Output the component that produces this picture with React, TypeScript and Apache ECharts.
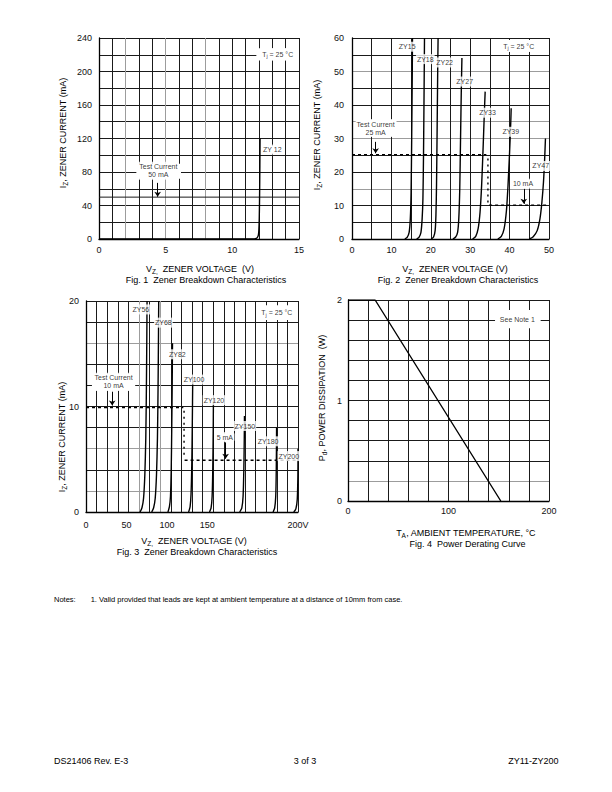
import React, { useEffect, useRef } from "react";
import * as echarts from "echarts";

const FONT = "'Liberation Sans', Arial, Helvetica, sans-serif";
const GRAY = "#9c9c9c";
const BLK = "#1a1a1a";

// ---------- Fig. 1 ----------
const fig1XLabels = [0, 5, 10, 15];
const fig1YLabels = [0, 40, 80, 120, 160, 200, 240];
const fig1ZY12 = [[0, 0], [11.5, 0], [11.8, 0.8], [11.92, 3], [11.98, 8], [12.02, 25], [12.05, 60], [12.08, 120]];
const fig1Extra50 = [[0, 50], [15, 50]];
const fig1Labels = [{ name: "ZY 12", value: [13.0, 106.7] }];
const fig1TestCurrent = { text: "Test Current\n50 mA", value: [4.45, 81.6] };
const fig1Arrow = [[4.4, 67], [4.4, 50.5]];
const fig1Tj = [13.4, 220.5];
const fig1Boxes = [[[11.8, 213], [15, 227.7]], [[2.8, 72], [6.15, 90]], [[12.2, 102.3], [13.8, 111]]];

// ---------- Fig. 2 ----------
const fig2XLabels = [0, 10, 20, 30, 40, 50];
const fig2YLabels = [0, 10, 20, 30, 40, 50, 60];
const fig2ZY15 = [[13.4, 0], [14.0, 0.5], [14.5, 2], [14.8, 6], [15.0, 14], [15.15, 30], [15.3, 50], [15.35, 60]];
const fig2ZY18 = [[16.4, 0], [17.0, 0.5], [17.5, 2], [17.8, 6], [18.0, 12], [18.15, 25], [18.3, 45], [18.4, 60]];
const fig2ZY22 = [[20.1, 0], [20.7, 0.6], [21.1, 2.5], [21.3, 7], [21.45, 16], [21.6, 32], [21.75, 50], [21.85, 60]];
const fig2ZY27 = [[25.6, 0], [26.3, 0.6], [26.8, 2], [27.1, 6], [27.35, 15], [27.55, 30], [27.75, 45], [27.9, 54]];
const fig2ZY33 = [[30.6, 0], [31.4, 0.8], [32.0, 3], [32.5, 8], [32.9, 16], [33.3, 28], [33.6, 38], [33.8, 44]];
const fig2ZY39 = [[37.0, 0], [37.9, 0.8], [38.6, 3], [39.2, 8.5], [39.6, 16], [40.0, 26], [40.3, 35], [40.4, 39]];
const fig2ZY47 = [[45.0, 0], [46.0, 0.7], [47.0, 2.5], [47.7, 6], [48.2, 11], [48.6, 17], [48.9, 24], [49.1, 30]];
const fig2Dash25 = [[0, 25.2], [34.1, 25.2]];
const fig2Dot = [[34.5, 24], [34.5, 10.6]];
const fig2Dash10 = [[34.8, 10.1], [50, 10.1]];
const fig2Labels = [
  { name: "ZY15", value: [14.0, 57.4] },
  { name: "ZY18", value: [18.6, 53.7] },
  { name: "ZY22", value: [23.5, 52.7] },
  { name: "ZY27", value: [28.6, 47.0] },
  { name: "ZY33", value: [34.4, 37.7] },
  { name: "ZY39", value: [40.3, 32.0] },
  { name: "ZY47", value: [47.9, 21.8] },
];
const fig2TestCurrent = { text: "Test Current\n25 mA", value: [6.0, 33.1] };
const fig2Arrow1 = [[6.0, 29], [6.0, 25.6]];
const fig2TenMA = { text: "10 mA", value: [43.4, 16.5] };
const fig2Arrow2 = [[43.6, 15.0], [43.6, 10.5]];
const fig2Tj = [42.3, 57.6];
const fig2Boxes = [[[36.2, 55.9], [48.5, 59.4]], [[1.1, 30.7], [11.3, 35.5]], [[41.7, 15.4], [46.4, 17.6]]];

// ---------- Fig. 3 ----------
const fig3XLabels = [0, 50, 100, 150];
const fig3XLabelMax = 262;
const fig3XLast = "200V";
const fig3YLabels = [0, 10, 20];
const fig3ZY56 = [[51, 0], [52.8, 0.4], [54.3, 1.3], [55.5, 3.5], [56.4, 7], [57.0, 12], [57.4, 17], [57.6, 20]];
const fig3ZY68 = [[62, 0], [63.8, 0.4], [65.3, 1.3], [66.5, 3.5], [67.4, 7], [68.0, 12], [68.4, 17], [68.6, 20]];
const fig3ZY82 = [[77.3, 0], [78.7, 0.5], [79.7, 1.5], [80.4, 4], [80.9, 8], [81.3, 12], [81.6, 16]];
const fig3ZY100 = [[96.8, 0], [98.2, 0.5], [99.1, 1.7], [99.8, 4.5], [100.3, 8.5], [100.7, 12.7]];
const fig3ZY120 = [[116.5, 0], [118, 0.4], [119, 1.5], [119.6, 4], [120, 7.5], [120.2, 10.5]];
const fig3ZY150 = [[145, 0], [147, 0.4], [148.2, 1.5], [148.9, 4], [149.3, 6.8], [149.5, 9.1]];
const fig3ZY180 = [[176.5, 0], [178, 0.4], [179, 1.5], [179.5, 4], [179.8, 8]];
const fig3ZY200 = [[196, 0], [198, 0.3], [199.3, 1.2], [199.9, 3.5], [200, 6]];
const fig3Dash10 = [[0, 9.9], [91.8, 9.9]];
const fig3Dot = [[92.5, 9.6], [92.5, 5.2]];
const fig3Dash5 = [[93, 4.9], [200, 4.9]];
const fig3Labels = [
  { name: "ZY56", value: [51.7, 19.2] },
  { name: "ZY68", value: [73.0, 17.95] },
  { name: "ZY82", value: [86.2, 14.95] },
  { name: "ZY100", value: [101.9, 12.55] },
  { name: "ZY120", value: [120.7, 10.6] },
  { name: "ZY150", value: [149.9, 8.15] },
  { name: "ZY180", value: [171.8, 6.7] },
  { name: "ZY200", value: [191.3, 5.3] },
];
const fig3TestCurrent = { text: "Test Current\n10 mA", value: [26, 12.35] };
const fig3Arrow1 = [[24.7, 11.4], [24.7, 10.1]];
const fig3FiveMA = { text: "5 mA", value: [131, 7.1] };
const fig3Arrow2 = [[131.7, 6.6], [131.7, 5.05]];
const fig3Tj = [180, 18.9];
const fig3Boxes = [[[160.8, 18.2], [200, 19.6]], [[5.6, 11.5], [46.4, 13.1]], [[123, 6.75], [140, 7.45]]];

// ---------- Fig. 4 ----------
const fig4XLabels = [0, 100, 200];
const fig4YLabels = [0, 1, 2];
const fig4Pd = [[0, 2], [27, 2], [152, 0]];
const fig4Note = { text: "See Note 1", value: [168.5, 1.81] };
const fig4Boxes = [[[146.3, 1.72], [191.7, 1.9]]];

function colors(n: number, gray: number[]) {
  return Array.from({ length: n }, (_, i) => (gray.includes(i) ? GRAY : BLK));
}

const near = (arr: number[], v: number) => arr.some((a) => Math.abs(a - v) < 1e-6);

function xAx(g: number, min: number, max: number, interval: number, labels: number[], cols: string[], margin: number) {
  return {
    type: "value", gridIndex: g, min, max, interval, position: "bottom",
    axisLine: { show: true, onZero: false, lineStyle: { color: "#000", width: 1.3 } },
    axisTick: { show: false },
    axisLabel: {
      show: true, margin, fontSize: 9, fontFamily: FONT, color: "#111",
      showMinLabel: true, showMaxLabel: true,
      formatter: (v: number) => (near(labels, v) ? String(Math.round(v)) : ""),
    },
    splitLine: { show: true, lineStyle: { color: cols, width: 1 } },
  };
}
function yAx(g: number, min: number, max: number, interval: number, labels: number[], cols: string[], margin: number) {
  return {
    type: "value", gridIndex: g, min, max, interval,
    axisLine: { show: true, onZero: false, lineStyle: { color: "#000", width: 1.3 } },
    axisTick: { show: false },
    axisLabel: {
      show: true, margin, fontSize: 9, fontFamily: FONT, color: "#111",
      showMinLabel: true, showMaxLabel: true,
      formatter: (v: number) => (near(labels, v) ? String(Math.round(v)) : ""),
    },
    splitLine: { show: true, lineStyle: { color: cols, width: 1 } },
  };
}

function curve(g: number, data: number[][], smooth: number | boolean = 0.25) {
  return {
    type: "line", xAxisIndex: g, yAxisIndex: g, data, showSymbol: false, symbol: "none",
    smooth, lineStyle: { color: "#000", width: 1.4 }, z: 3, silent: true,
  };
}
function dashed(g: number, data: number[][], type: any, extra: any = {}) {
  return {
    type: "line", xAxisIndex: g, yAxisIndex: g, data, showSymbol: false, symbol: "none",
    lineStyle: { color: "#000", width: 1.4, type }, z: 3, silent: true, ...extra,
  };
}
function arrows(list: number[][][]) {
  return {
    silent: true, symbol: ["none", "arrow"], symbolSize: 5, animation: false,
    label: { show: false },
    lineStyle: { color: "#000", width: 1, type: "solid" },
    data: list.map((a) => [{ coord: a[0] }, { coord: a[1] }]),
  };
}
function boxes(g: number, list: number[][][], anchor: number[]) {
  return {
    type: "line", xAxisIndex: g, yAxisIndex: g, data: [anchor], showSymbol: false, symbol: "none",
    lineStyle: { opacity: 0 }, z: 2, silent: true,
    markArea: {
      silent: true, animation: false, label: { show: false },
      itemStyle: { color: "#ffffff", opacity: 1, borderWidth: 0 },
      data: list.map((b) => [{ coord: b[0] }, { coord: b[1] }]),
    },
  };
}
const RICH = {
  s: { fontSize: 5.5, fontFamily: FONT, verticalAlign: "bottom", lineHeight: 10, color: "#000" },
  n: { fontSize: 7, fontFamily: FONT, lineHeight: 10, color: "#000" },
};
function labels(g: number, items: any[], extraLabel: any = {}) {
  return {
    type: "scatter", xAxisIndex: g, yAxisIndex: g, symbolSize: 0, z: 6, silent: true,
    data: items,
    label: {
      show: true, position: "inside", fontSize: 7, fontFamily: FONT, color: "#000",
      backgroundColor: "#fff", padding: [1, 1], lineHeight: 8, align: "center",
      formatter: (p: any) => p.name, rich: RICH, ...extraLabel,
    },
  };
}
function tj(g: number, v: number[]) {
  return labels(g, [{ name: "Tj", value: v }], {
    formatter: () => "{n|T}{s|j}{n| = 25 °C}",
  });
}

function gtext(x: number, y: number, text: string, size: number, align = "center", rotation = 0, rich?: any) {
  return {
    type: "text", x, y, rotation, silent: true,
    style: {
      text, fill: "#000", fontSize: size, fontFamily: FONT,
      textAlign: align, textVerticalAlign: "middle", lineHeight: 12,
      rich,
    },
  };
}
const NRICH = { s: { fontSize: 6.5, fontFamily: FONT, verticalAlign: "bottom", lineHeight: 12, fill: "#000" } };

function buildOption() {
  return {
    animation: false,
    backgroundColor: "#fff",
    grid: [
      { left: 99, top: 38, width: 200, height: 201, outerBoundsMode: "none", show: false },
      { left: 352, top: 38, width: 197, height: 201, outerBoundsMode: "none", show: false },
      { left: 86, top: 301, width: 212, height: 211, outerBoundsMode: "none", show: false },
      { left: 348, top: 300, width: 201, height: 201, outerBoundsMode: "none", show: false },
    ],
    xAxis: [
      xAx(0, 0, 15, 1, fig1XLabels, colors(16, [2, 5, 8]), 6),
      xAx(1, 0, 50, 5, fig2XLabels, colors(11, []), 6),
      { ...xAx(2, 0, 200, 10, [], colors(21, [5, 7]), 8), axisLabel: { show: false } },
      xAx(3, 0, 200, 20, fig4XLabels, colors(11, []), 5),
      {
        type: "value", gridIndex: 2, min: 0, max: fig3XLabelMax, interval: 50, position: "bottom",
        axisLine: { show: false }, axisTick: { show: false }, splitLine: { show: false },
        axisLabel: {
          show: true, margin: 8, fontSize: 9, fontFamily: FONT, color: "#111",
          showMinLabel: true, showMaxLabel: true,
          formatter: (v: number) =>
            Math.abs(v - fig3XLabelMax) < 1e-6 ? fig3XLast : near(fig3XLabels, v) ? String(v) : "",
        },
      },
    ],
    yAxis: [
      yAx(0, 0, 240, 20, fig1YLabels, colors(13, []), 7),
      yAx(1, 0, 60, 5, fig2YLabels, colors(13, [3, 6, 7, 10]), 8),
      yAx(2, 0, 20, 2, fig3YLabels, colors(11, [1, 3, 8]), 7),
      yAx(3, 0, 2, 0.2, fig4YLabels, colors(11, [1]), 6),
    ],
    series: [
      // Fig 1
      { ...curve(0, fig1ZY12), markLine: arrows([fig1Arrow]) },
      dashed(0, fig1Extra50, "solid", { lineStyle: { color: BLK, width: 1 }, z: 1 }),
      boxes(0, fig1Boxes, [0, 0]),
      labels(0, fig1Labels),
      labels(0, [{ name: fig1TestCurrent.text, value: fig1TestCurrent.value }]),
      tj(0, fig1Tj),
      // Fig 2
      curve(1, fig2ZY15), curve(1, fig2ZY18), curve(1, fig2ZY22), curve(1, fig2ZY27),
      curve(1, fig2ZY33), curve(1, fig2ZY39), curve(1, fig2ZY47),
      { ...dashed(1, fig2Dash25, [3, 3]), markLine: arrows([fig2Arrow1, fig2Arrow2]) },
      dashed(1, fig2Dot, [2, 4]),
      dashed(1, fig2Dash10, [3, 3]),
      boxes(1, fig2Boxes, [0, 0]),
      labels(1, fig2Labels),
      labels(1, [{ name: fig2TestCurrent.text, value: fig2TestCurrent.value }]),
      labels(1, [{ name: fig2TenMA.text, value: fig2TenMA.value }]),
      tj(1, fig2Tj),
      // Fig 3
      curve(2, fig3ZY56), curve(2, fig3ZY68), curve(2, fig3ZY82), curve(2, fig3ZY100),
      curve(2, fig3ZY120), curve(2, fig3ZY150), curve(2, fig3ZY180), curve(2, fig3ZY200),
      { ...dashed(2, fig3Dash10, [3, 3]), markLine: arrows([fig3Arrow1, fig3Arrow2]) },
      dashed(2, fig3Dot, [2, 4]),
      dashed(2, fig3Dash5, [3, 3]),
      boxes(2, fig3Boxes, [0, 0]),
      labels(2, fig3Labels),
      labels(2, [{ name: fig3TestCurrent.text, value: fig3TestCurrent.value }]),
      labels(2, [{ name: fig3FiveMA.text, value: fig3FiveMA.value }]),
      tj(2, fig3Tj),
      // Fig 4
      curve(3, fig4Pd, false),
      boxes(3, fig4Boxes, [0, 0]),
      labels(3, [{ name: fig4Note.text, value: fig4Note.value }]),
    ],
    graphic: [
      gtext(200, 269.3, "V{s|Z,}  ZENER VOLTAGE  (V)", 9, "center", 0, NRICH),
      gtext(206, 280, "Fig. 1  Zener Breakdown Characteristics", 9),
      gtext(63, 133, "I{s|Z}, ZENER CURRENT (mA)", 9, "center", Math.PI / 2, NRICH),
      gtext(455, 269.3, "V{s|Z,}  ZENER VOLTAGE (V)", 9, "center", 0, NRICH),
      gtext(458, 280, "Fig. 2  Zener Breakdown Characteristics", 9),
      gtext(317, 135, "I{s|Z}, ZENER CURRENT (mA)", 9, "center", Math.PI / 2, NRICH),
      gtext(194, 541, "V{s|Z,}  ZENER VOLTAGE (V)", 9, "center", 0, NRICH),
      gtext(197, 551.5, "Fig. 3  Zener Breakdown Characteristics", 9),
      gtext(62, 437, "I{s|Z}, ZENER CURRENT (mA)", 9, "center", Math.PI / 2, NRICH),
      gtext(466, 533.3, "T{s|A}, AMBIENT TEMPERATURE, °C", 9, "center", 0, NRICH),
      gtext(467.5, 544, "Fig. 4  Power Derating Curve", 9),
      gtext(322, 398, "P{s|d}, POWER DISSIPATION  (W)", 9, "center", Math.PI / 2, NRICH),
      gtext(54, 599.5, "Notes:", 7.5, "left"),
      gtext(90.7, 599.5, "1. Valid provided that leads are kept at ambient temperature at a distance of 10mm from case.", 7.5, "left"),
      gtext(54, 760.5, "DS21406 Rev. E-3", 9, "left"),
      gtext(305, 760.5, "3 of 3", 9, "center"),
      gtext(558.5, 760.5, "ZY11-ZY200", 9, "right"),
    ],
  };
}

export default function App() {
  const ref = useRef<HTMLDivElement>(null);
  useEffect(() => {
    const el = ref.current!;
    const chart = echarts.init(el, undefined, { renderer: "svg", width: 612, height: 792 });
    chart.setOption(buildOption() as any);
    return () => chart.dispose();
  }, []);
  return (
    <div
      ref={ref}
      style={{ position: "absolute", left: 0, top: 0, width: 612, height: 792, background: "#fff" }}
    />
  );
}
